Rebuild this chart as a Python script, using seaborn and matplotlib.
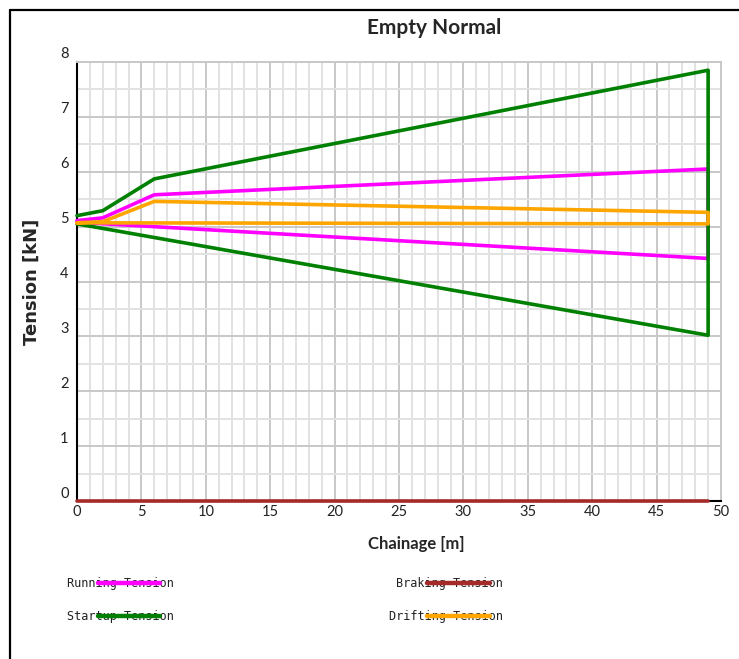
import matplotlib
matplotlib.use("Agg")
import matplotlib.pyplot as plt
import matplotlib.transforms as mtransforms
from matplotlib.lines import Line2D
from matplotlib.ticker import MultipleLocator
import pandas as pd
import seaborn as sns

# Tension envelopes (closed paths) along the conveyor
running_x = [0, 2, 6, 49, 49, 0]
running_y = [5.11, 5.16, 5.58, 6.05, 4.42, 5.08]

braking_x = [0, 49]
braking_y = [0, 0]

startup_x = [0, 2, 6, 49, 49, 0]
startup_y = [5.20, 5.29, 5.87, 7.85, 3.02, 5.05]

drifting_x = [0, 2, 6, 49, 49, 0]
drifting_y = [5.07, 5.09, 5.46, 5.26, 5.05, 5.07]

series = [
    ("Running Tension", running_x, running_y, "#ff00ff"),
    ("Braking Tension", braking_x, braking_y, "#a52a2a"),
    ("Startup Tension", startup_x, startup_y, "#008000"),
    ("Drifting Tension", drifting_x, drifting_y, "#ffa500"),
]

sns.set_style("white")
plt.rcParams["font.family"] = ["Lato", "DejaVu Sans"]

fig = plt.figure(figsize=(7.39, 6.59), dpi=100)
W, H = 739, 659
ax = fig.add_axes([77 / W, 1 - 501 / H, (721 - 77) / W, (501 - 62) / H])

handles = {}
for name, xs, ys, col in series:
    df = pd.DataFrame({"x": xs, "y": ys})
    sns.lineplot(data=df, x="x", y="y", sort=False, estimator=None,
                 color=col, linewidth=2.6, ax=ax, clip_on=False, zorder=3)
    handles[name] = ax.lines[-1]

ax.set_xlim(0, 50)
ax.set_ylim(0, 8)
ax.xaxis.set_major_locator(MultipleLocator(5))
ax.xaxis.set_minor_locator(MultipleLocator(1))
ax.yaxis.set_major_locator(MultipleLocator(1))
ax.yaxis.set_minor_locator(MultipleLocator(0.5))
ax.grid(True, which="major", color="#c8c8c8", linewidth=1.4, zorder=0)
ax.grid(True, which="minor", color="#e2e2e2", linewidth=1.4, zorder=0)
ax.set_axisbelow(True)
ax.tick_params(which="both", length=0, labelsize=10.5, colors="#222222")
ax.tick_params(axis="y", pad=6)
ax.tick_params(axis="x", pad=3)

for lab in ax.get_yticklabels():
    lab.set_transform(lab.get_transform() +
                      mtransforms.ScaledTranslation(0, 9 / 100, fig.dpi_scale_trans))

for s in ["top", "right"]:
    ax.spines[s].set_color("#c8c8c8")
    ax.spines[s].set_linewidth(1.4)
for s in ["left", "bottom"]:
    ax.spines[s].set_color("black")
    ax.spines[s].set_linewidth(1.5)

ax.set_xlabel("")
ax.set_ylabel("")
fig.text(416 / W, 1 - 549 / H, "Chainage [m]", ha="center", va="baseline",
         fontsize=12, fontweight="bold")
fig.text(32 / W, 1 - 282 / H, "Tension [kN]", rotation=90, ha="center", va="center",
         fontsize=13, fontweight="bold", family=["DejaVu Sans"])
fig.text(434 / W, 1 - 34 / H, "Empty Normal", ha="center", va="baseline",
         fontsize=15, fontweight="bold")

order = ["Running Tension", "Startup Tension", "Braking Tension", "Drifting Tension"]
leg = fig.legend([handles[n] for n in order], order, ncol=2, markerfirst=False,
                 handletextpad=-6.45, handlelength=5.3, columnspacing=19.4,
                 labelspacing=1.7, frameon=False, borderpad=0,
                 prop={"family": "DejaVu Sans Mono", "size": 8.5},
                 loc="upper left", bbox_to_anchor=(61 / W, 1 - 571 / H))
for t in leg.get_texts():
    t.set_color("#222222")
for h in leg.legend_handles:
    h.set_linewidth(3.2)

# outer frame: only left and top edges are visible
fig.lines.append(Line2D([10 / W, 10 / W], [0, 1 - 10 / H], transform=fig.transFigure,
                        color="black", linewidth=1.6))
fig.lines.append(Line2D([10 / W, 1], [1 - 10 / H, 1 - 10 / H], transform=fig.transFigure,
                        color="black", linewidth=1.6))

fig.savefig("out.png", dpi=100)
